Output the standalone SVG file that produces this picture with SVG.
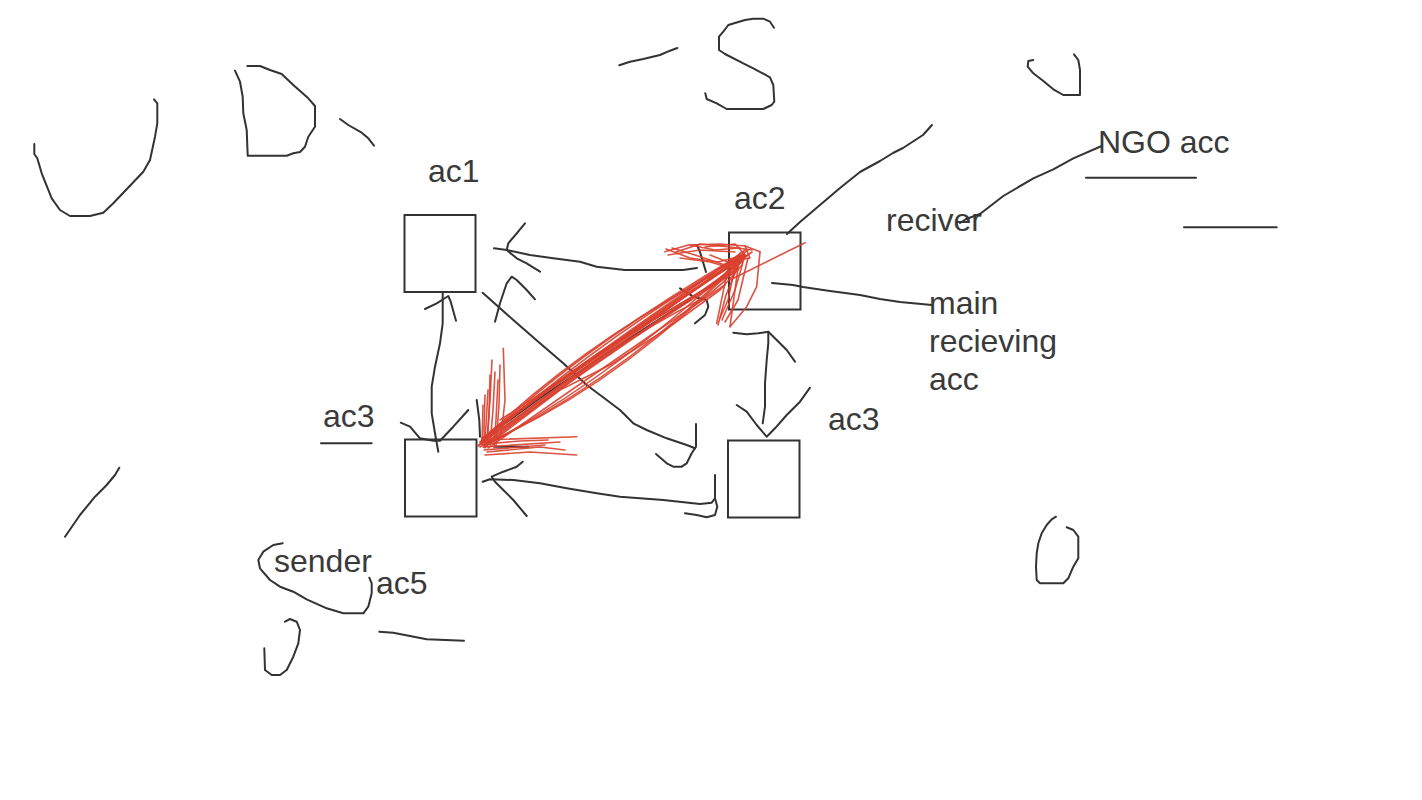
<svg xmlns="http://www.w3.org/2000/svg" width="1422" height="800" viewBox="0 0 1422 800">
<style>
.t{font-family:"Liberation Sans",Arial,sans-serif;font-size:32px;fill:#3a3a3a}
.box{fill:none;stroke:#333;stroke-width:2}
.s{fill:none;stroke:#333;stroke-width:2;stroke-linecap:round;stroke-linejoin:round}
.r{fill:none;stroke:#d9402f;stroke-width:1.6;stroke-linecap:round;stroke-linejoin:round;opacity:0.9}
</style>
<rect width="1422" height="800" fill="#fff"/>

<g id="sketches">
<path class="s" d="M34.3,144 L34.3,154 L37.3,158.3 L41.7,173.3 L51.7,198.3 L60,210 L70,216 L90,216 L103.3,212.7 L113.3,203.3 L143.3,171.7 L150,160 L155,136.7 L157.3,123.3 L157.3,103.3 L154,99.3"/>
<path class="s" d="M235,70.7 L240,81.7 L242.7,96.7 L243.3,113.3 L246.7,130 L247.7,155.7 L286.7,155.7 L293.3,153.3 L300,152 L305,146.7 L308.3,136.7 L315,126.7 L315,106 L308.3,98.3 L293.3,85 L281.7,74 L270,70 L260,66 L247.3,66"/>
<path class="s" d="M340,119 L348.3,125 L361.7,132.7 L368.3,138.3 L374,145.7"/>
<path class="s" d="M619.3,65.3 L630,61.7 L643.3,59 L660,55 L670,50.7 L677.3,48"/>
<path class="s" d="M774,27.7 L770,21.7 L763.3,18.7 L753.3,18.7 L745,20 L728.3,25 L723.3,31.7 L719,36.7 L719,50 L725,54 L743.3,63.3 L753.3,68.3 L770,77.3 L773.3,85 L774.3,101.7 L771.7,105 L763.3,109 L726.7,109 L716.7,103.3 L706.7,99 L705.3,93.3"/>
<path class="s" d="M1033.3,60 L1028.3,61 L1027.7,66.7 L1033.3,73.3 L1043.3,81 L1053.3,89.3 L1063.3,95 L1080,95 L1080,70 L1078.3,60 L1074,54.3"/>
<path class="s" d="M1086,177.7 L1196,177.7"/>
<path class="s" d="M1184,227.3 L1276.7,227.3"/>
<path class="s" d="M119.3,467.7 L115,475 L106.7,485 L95,496.7 L80,515 L65,536.7"/>
<path class="s" d="M321,443.3 L371.7,443.3"/>
<path class="s" d="M282.7,543.3 L273.3,545 L263.3,551.7 L258.3,560 L260,568.3 L270,580 L280,586.7 L293.3,591.7 L306.7,599.3 L326.7,608.3 L343.3,613.3 L363.3,613.3 L368.3,606.7 L371.7,593.3 L371.7,583.3 L369.3,577.7"/>
<path class="s" d="M285,621.7 L290,619 L296.7,621.7 L300,630 L298.3,643.3 L293.3,656.7 L286.7,670 L280,675 L271.7,675 L265,670 L264.3,648.3"/>
<path class="s" d="M379.3,631.7 L393.3,632.7 L426.7,639.3 L464,640.7"/>
<path class="s" d="M1056,516.7 L1051.7,519.3 L1046.7,525 L1041.7,533.3 L1038.3,543.3 L1036.7,553.3 L1036,566.7 L1036.7,580 L1040,583.3 L1063.3,583.3 L1068.3,578.3 L1073.3,566.7 L1078.3,558.3 L1078.3,536.7 L1073.3,530 L1066.7,527.3"/>
</g>

<g id="ac1">
<rect class="box" x="404.5" y="215" width="71" height="77"/>
<text class="t" x="428" y="182">ac1</text>
</g>
<g id="ac2">
<rect class="box" x="729" y="232.5" width="71.5" height="77"/>
<text class="t" x="734" y="209">ac2</text>
</g>
<g id="ac3-left">
<rect class="box" x="405" y="439.5" width="71.5" height="77"/>
<text class="t" x="323" y="427">ac3</text>
</g>
<g id="ac3-right">
<rect class="box" x="728" y="440.5" width="71.5" height="77"/>
<text class="t" x="828" y="430">ac3</text>
</g>
<g id="reciver">
<text class="t" x="886" y="231">reciver</text>
</g>
<g id="ngo">
<text class="t" x="1098" y="153">NGO acc</text>
</g>
<g id="main">
<text class="t" x="929" y="314">main</text>
<text class="t" x="929" y="352">recieving</text>
<text class="t" x="929" y="390">acc</text>
</g>
<g id="sender">
<text class="t" x="274" y="572">sender</text>
<text class="t" x="376" y="594">ac5</text>
</g>

<g id="connectors">
<path class="s" d="M494,248.3 L506.7,250 L530,255 L553.3,258.3 L580,261.7 L596.7,266.7 L625,270 L683,270 L697,268"/>
<path class="s" d="M525,223.3 L516.7,233.3 L508.3,243.3 L506.7,250 L516.7,258.3 L526.7,263.3 L540,271.7"/>
<path class="s" d="M438.3,451.7 L435,433.3 L431.7,413.3 L431.7,386.7 L435,366.7 L440,343.3 L442.7,323.3 L442.7,291.7"/>
<path class="s" d="M425,309 L436.7,303.3 L448.3,296 L450.7,301.7 L456,320.7"/>
<path class="s" d="M400.7,422.7 L410,426.7 L420,438.3 L433.3,440.7 L440,440.7 L453.3,426.7 L468.3,410"/>
<path class="s" d="M482.7,292.7 L513.3,320 L540,343.3 L563.3,363.3 L586.7,385 L606.7,400 L620,410 L633.3,423.3 L646.7,430 L666.7,438.3 L686.7,445 L695,448.3"/>
<path class="s" d="M696,424 L696,446.7 L691.7,453.3 L686.7,463.3 L681.7,466.7 L673.3,466.7 L666.7,463.3 L656,454"/>
<path class="s" d="M495,321.7 L500,303.3 L506.7,283.3 L511.7,276.7 L516.7,280 L526.7,290 L535,299.3"/>
<path class="s" d="M482.7,481.7 L490,479.3 L513.3,480 L540,483.3 L566.7,488.3 L596.7,493.3 L620,496.7 L663.3,500 L700,504 L711.7,502.7 L715,498.3 L715,475"/>
<path class="s" d="M715,498.3 L717.3,506.7 L715,515 L706.7,517.3 L696.7,515 L685,513.3"/>
<path class="s" d="M522.7,461.7 L516.7,466.7 L503.3,471.7 L491.7,476.7 L495,481.7 L513.3,500 L526.7,516"/>
<path class="s" d="M733.3,332.7 L746.7,334.3 L758.3,333.3 L768.3,331.7 L768.3,343.3 L766.7,360 L765,383.3 L765,406.7 L762.7,423.3"/>
<path class="s" d="M768.3,331.7 L776.7,340 L786.7,350 L795,361.7"/>
<path class="s" d="M736.7,405 L746.7,411.7 L756.7,425 L766.7,436.7 L775,428.3 L786.7,415 L800,401.7 L810,387.7"/>
<path class="s" d="M787,234 L800,222 L820,205 L840,188 L860,172 L880,161 L893,153 L903,148 L923,135 L932,125"/>
<path class="s" d="M960,223 L966,219 L980,214 L1003.3,196 L1033.3,178.3 L1053.3,169.3 L1073.3,158.3 L1101.7,146"/>
<path class="s" d="M772,283 L793,285 L803,287 L830,291 L860,295 L880,299 L900,302 L932,305"/>
<path class="s" d="M680,288.3 L693.3,296.7 L706.7,300 L708.3,306.7 L705,315 L695,323.3"/>
<path class="s" d="M697,245 L700,252 L703,262 L706,272"/>
<path class="s" d="M476.7,400 L479.3,420 L480,436.7"/>
<path class="s" d="M495,446.7 L528.3,446.7"/>
<path class="s" d="M482,440 L540,398 L600,358 L650,325 L690,300"/>

<g id="red">
<path class="r" d="M480,443 L520,410 L560,380 L600,352 L650,322 L700,292 L742,262"/>
<path class="r" d="M484,440 L530,402 L575,372 L620,340 L670,310 L720,280 L748,255"/>
<path class="r" d="M478,446 C540,400 620,340 745,255"/>
<path class="r" d="M486,445 C550,395 640,330 738,268"/>
<path class="r" d="M482,438 C545,392 630,328 730,262"/>
<path class="r" d="M490,432 C560,380 650,320 752,252"/>
<path class="r" d="M495,428 C565,378 655,318 740,258"/>
<path class="r" d="M480,447 C555,392 645,328 735,272"/>
<path class="r" d="M500,420 C570,375 660,312 745,250"/>
<path class="r" d="M488,448 C560,398 650,335 725,285"/>
<path class="r" d="M482,444 Q590,345 744,254"/>
<path class="r" d="M484,446 Q610,380 742,258"/>
<path class="r" d="M480,442 Q585,340 738,262"/>
<path class="r" d="M486,443 Q620,385 746,256"/>
<path class="r" d="M483,441 Q575,352 740,255"/>
<path class="r" d="M488,444 Q630,372 735,265"/>
<path class="r" d="M479,445 Q600,360 748,250"/>
<path class="r" d="M490,440 Q600,350 700,300 Q725,285 744,258"/>
<path class="r" d="M485,447 L560,390 L610,365 L665,330 L720,290 L742,265"/>
<path class="r" d="M487,436 L545,393 L590,360 L640,325 L700,285 L745,256"/>
<path class="r" d="M503.3,348.3 L505,400 L501.7,430 L498.3,440"/>
<path class="r" d="M495,372 L493,410 L490,445"/>
<path class="r" d="M488,390 L486,425 L484,447"/>
<path class="r" d="M492,360 L490,400 L487,440"/>
<path class="r" d="M483,405 L482,445"/>
<path class="r" d="M498,380 L496,420 L494,448"/>
<path class="r" d="M490,375 L489,415 L487,446"/>
<path class="r" d="M485,395 L484,430 L485,448"/>
<path class="r" d="M500,365 L499,405 L496,446"/>
<path class="r" d="M483.3,440 L576.7,436.7"/>
<path class="r" d="M483,447 L560,442"/>
<path class="r" d="M485,455 L530,452 L576.7,455"/>
<path class="r" d="M484,450 L545,445"/>
<path class="r" d="M486,444 L520,441 L548,440"/>
<path class="r" d="M487,452 L540,447 L565,450"/>
<path class="r" d="M665,251.7 L688.3,245 L720,244 L745,246 L760,251.7"/>
<path class="r" d="M668,255 L700,250 L735,252"/>
<path class="r" d="M672,248 L695,255 L725,265 L742,258"/>
<path class="r" d="M680,258 L710,262 L738,270"/>
<path class="r" d="M690,245 L715,250 L740,248"/>
<path class="r" d="M666,249 L690,258 L718,262 L745,255 L735,244 L705,247"/>
<path class="r" d="M676,252 L700,244 L730,247 L752,250"/>
<path class="r" d="M710,255 L728,262 L750,258 L745,246"/>
<path class="r" d="M730,258.3 L716.7,323.3"/>
<path class="r" d="M740,253 L730,326.7"/>
<path class="r" d="M745,255 L735,290 L722,320"/>
<path class="r" d="M760,251.7 L756.7,286.7 L746.7,306.7 L730,326.7"/>
<path class="r" d="M736,262 L728,300 L720,318"/>
<path class="r" d="M742,256 L726,295 L718,325"/>
<path class="r" d="M748,258 L738,300 L725,322"/>
<path class="r" d="M730,280 L805,242.7"/>
</g>
</g>
</svg>
